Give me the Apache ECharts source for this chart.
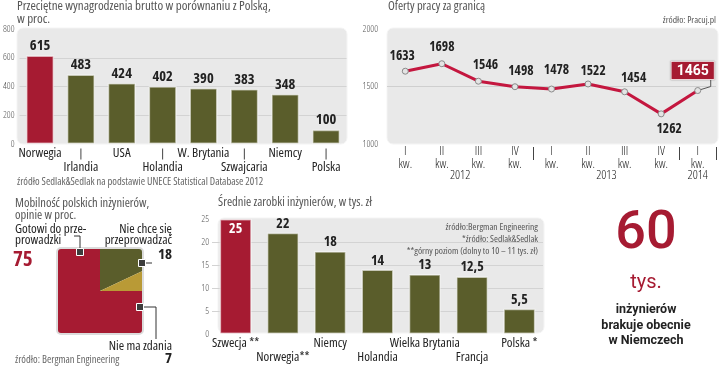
<!DOCTYPE html>
<html><head><meta charset="utf-8">
<script src="https://cdn.jsdelivr.net/npm/echarts@6/dist/echarts.min.js"></script>
<style>html,body{margin:0;padding:0;background:#fff}#c{width:720px;height:366px}</style>
</head><body><div id="c"></div>
<script>
// ---- data ----
const wageCountries = ['Norwegia','Irlandia','USA','Holandia','W. Brytania','Szwajcaria','Niemcy','Polska'];
const wageValues = [615,483,424,402,390,383,348,100];

const offerQuarters = ['I\nkw.','II\nkw.','III\nkw.','IV\nkw.','I\nkw.','II\nkw.','III\nkw.','IV\nkw.','I\nkw.'];
const offerValues = [1633,1698,1546,1498,1478,1522,1454,1262,1465];
const offerYears = ['2012','2013','2014'];
const offerYearQuarterCounts = [4,4,1];

const mobilityLabels = ['Nie chce się przeprowadzać','Nie ma zdania','Gotowi do przeprowadzki'];
const mobilityValues = [18,7,75];

const engCountries = ['Szwecja **','Norwegia**','Niemcy','Holandia','Wielka Brytania','Francja','Polska *'];
const engValues = [25,22,18,14,13,12.5,5.5];

const shortageValue = 60;

// ---- style ----
const OS = "'Open Sans'";
const CN = 'condensed';
const FR = "Roboto,'Noto Sans',sans-serif";
const RED = '#a61b32', OLIVE = '#5a5d2b', GOLD = '#b99a36', LINE = '#c4173f';
const mobilityColors = [OLIVE, GOLD, RED];
const lineLabelNudge = [[-3,0],[0,-1],[7,-1],[6,0],[5,-3],[5,3],[9,2],[8,0],[-5,-3]];
const f = (size, weight, stretch) => (stretch||CN) + ' ' + (weight||'normal') + ' ' + size + 'px ' + OS;

// derived
const yearCenters = []; const yearStarts = [];
{ let c = 0; offerYearQuarterCounts.forEach((n,i)=>{ yearCenters.push(c + n/2); if (i>0) yearStarts.push(c); c += n; }); }
const mobilityRanges = []; { let acc = 0; const tot = mobilityValues.reduce((a,b)=>a+b,0);
  mobilityValues.forEach(v=>{ mobilityRanges.push([acc/tot,(acc+v)/tot]); acc += v; }); }

const chart = echarts.init(document.getElementById('c'));

function T(x,y,text,font,fill,align){
  return {type:'text', x:x, y:y, z:10, style:{text:text, font:font, fill:fill||'#555', textAlign:align||'left', textVerticalAlign:'middle'}};
}
function panel(x,y,w,h){ return {type:'rect', z:-5, shape:{x:x,y:y,width:w,height:h,r:6}, style:{fill:'#e9e9e9', stroke:'#f4f4f4', lineWidth:1}}; }
function marker(x,y){ return {type:'rect', z:20, shape:{x:x-3.5,y:y-3.5,width:7,height:7}, style:{fill:'#3d3d3d', stroke:'#fff', lineWidth:1}}; }
function pline(pts){ return {type:'polyline', z:19, shape:{points:pts}, style:{stroke:'#333', lineWidth:1, fill:null}}; }

const graphics = [
  panel(17,28,330,116), panel(387,28,331,116), panel(218,218,326,115),
  T(17,6,'Przeciętne wynagrodzenia brutto w porównaniu z Polską,',f(13),'#555'),
  T(17,19,'w proc.',f(13),'#555'),
  T(17,182,'źródło Sedlak&Sedlak na podstawie UNECE Statistical Database 2012',f(10.5),'#666'),
  T(388,6,'Oferty pracy za granicą',f(12.5),'#555'),
  T(716,20,'źródło: Pracuj.pl',f(9.5),'#555','right'),
  T(15,203,'Mobilność polskich inżynierów,',f(12.5),'#555'),
  T(15,215,'opinie w proc.',f(12.5),'#555'),
  T(15,229,'Gotowi do prze-',f(13),'#222'),
  T(15,240,'prowadzki',f(13),'#222'),
  T(13,260,String(mobilityValues[2]),f(21,'bold'),RED),
  T(172,229,'Nie chce się',f(13),'#222','right'),
  T(172,240,'przeprowadzać',f(13),'#222','right'),
  T(172,255,String(mobilityValues[0]),f(15,'bold'),'#222','right'),
  T(172,346,'Nie ma zdania',f(13),'#222','right'),
  T(172,359,String(mobilityValues[1]),f(15,'bold'),'#222','right'),
  T(15,360,'źródło: Bergman Engineering',f(10.5),'#666'),
  T(218,202,'Średnie zarobki inżynierów, w tys. zł',f(12.5),'#555'),
  T(538,227,'źródło:Bergman Engineering',f(9.5),'#555','right'),
  T(538,239,'*źródło: Sedlak&Sedlak',f(9.5),'#555','right'),
  T(538,251,'**górny poziom (dolny to 10 – 11 tys. zł)',f(9.5),'#555','right'),
  T(646,234,String(shortageValue),'500 54px '+FR,RED,'center'),
  T(646,283,'tys.','20px '+FR,RED,'center'),
  T(646,310,'inżynierów','bold 12.5px '+FR,'#222','center'),
  T(646,326,'brakuje obecnie','bold 12.5px '+FR,'#222','center'),
  T(646,341,'w Niemczech','bold 12.5px '+FR,'#222','center'),
  {type:'rect', z:15, shape:{x:57,y:248,width:86,height:86,r:4}, style:{fill:null, stroke:'#dcdcdc', lineWidth:2}},
  pline([[74,236],[80,236],[80,252]]), marker(80,252),
  pline([[142,263],[152,263]]), marker(142,263),
  pline([[140,307],[156,307],[156,339]]), marker(140,307)
];

const yLab = {fontFamily:OS, fontStyle:CN, fontWeight:300, fontSize:9.5, color:'#555', formatter:v=>String(v)};
const catRich = {fontFamily:OS, fontStyle:CN, fontSize:13, lineHeight:13, color:'#222'};

const option = {
  animation:false,
  textStyle:{fontFamily:OS},
  grid:[
    {left:16.5, top:29, width:330, height:115},
    {left:387, top:29, width:329, height:115},
    {left:58, top:249, width:84, height:84},
    {left:212, top:219, width:331, height:115}
  ],
  xAxis:[
    {type:'category', gridIndex:0, position:'bottom', data:wageCountries, axisLine:{show:false}, axisTick:{show:false},
     axisLabel:{interval:0, margin:3, formatter:(v,i)=> i%2 ? '{t| }\n{n|'+v+'}' : '{n|'+v+'}',
       rich:{n:catRich, t:{width:1, height:11, backgroundColor:'#444', lineHeight:14, fontSize:8}}}},
    {type:'category', gridIndex:1, position:'bottom', data:offerQuarters, axisLine:{show:false}, axisTick:{show:false},
     axisLabel:{interval:0, margin:1, fontFamily:OS, fontStyle:CN, fontWeight:300, fontSize:12.5, lineHeight:13, color:'#222'}},
    {type:'category', gridIndex:1, position:'bottom', data:offerQuarters, offset:3, axisLine:{show:false}, axisLabel:{show:false},
     axisTick:{show:true, alignWithLabel:false, interval:(i)=>yearStarts.indexOf(i)>=0, length:13, lineStyle:{color:'#444', width:1}}},
    {type:'value', gridIndex:1, position:'bottom', min:0, max:offerQuarters.length, interval:0.5, axisLine:{show:false}, axisTick:{show:false}, splitLine:{show:false},
     axisLabel:{margin:25, fontFamily:OS, fontStyle:CN, fontWeight:300, fontSize:12.5, color:'#222', showMinLabel:true, showMaxLabel:true,
       formatter:v=>{ const k = yearCenters.findIndex(c=>Math.abs(c-v)<1e-6); return k>=0 ? offerYears[k] : ''; }}},
    {type:'value', gridIndex:2, min:-1, max:1, show:false},
    {type:'category', gridIndex:3, position:'bottom', data:engCountries, axisLine:{show:false}, axisTick:{show:false},
     axisLabel:{interval:0, margin:3, formatter:(v,i)=> i%2 ? '{s| }\n{n|'+v+'}' : '{n|'+v+'}',
       rich:{n:catRich, s:{lineHeight:14, fontSize:8}}}}
  ],
  yAxis:[
    {type:'value', gridIndex:0, min:0, max:800, interval:200, axisLine:{show:false}, axisTick:{show:false},
     axisLabel:Object.assign({margin:5}, yLab), splitLine:{lineStyle:{color:['transparent','#d3d3d3','#d3d3d3','#d3d3d3','transparent']}}},
    {type:'value', gridIndex:1, min:1000, max:2000, interval:500, axisLine:{show:false}, axisTick:{show:false},
     axisLabel:Object.assign({margin:9}, yLab), splitLine:{lineStyle:{color:['transparent','#cfcfcf','transparent']}}},
    {type:'value', gridIndex:2, min:-1, max:1, show:false},
    {type:'value', gridIndex:3, min:0, max:25, interval:5, axisLine:{show:false}, axisTick:{show:false},
     axisLabel:Object.assign({margin:3}, yLab), splitLine:{lineStyle:{color:['transparent','#d3d3d3','#d3d3d3','#d3d3d3','#d3d3d3','transparent']}}}
  ],
  series:[
    {type:'bar', xAxisIndex:0, yAxisIndex:0, barWidth:28,
     data:wageValues.map((v,i)=>({value:v, itemStyle:{color: i===0 ? RED : OLIVE}})),
     itemStyle:{borderColor:'rgba(255,255,255,0.55)', borderWidth:1.5},
     label:{show:true, position:'top', distance:2, fontFamily:OS, fontStyle:CN, fontWeight:'bold', fontSize:14.5, color:'#222'}},
    {type:'line', xAxisIndex:1, yAxisIndex:1, z:5,
     data:offerValues.map((v,i)=>{
       const last = i===offerValues.length-1;
       const lbl = {offset:lineLabelNudge[i]};
       if (i===7) lbl.position='bottom';
       if (last) Object.assign(lbl, {fontFamily:FR, fontStyle:'normal', fontSize:14, color:'#fff', backgroundColor:RED, padding:[2,5,1,5],
         borderColor:'#f2d9dd', borderWidth:1, shadowColor:'rgba(0,0,0,0.45)', shadowBlur:1.5});
       return {value:v, label:lbl};
     }),
     lineStyle:{color:LINE, width:3}, symbol:'circle', symbolSize:6,
     itemStyle:{color:'#e4e4e4', borderColor:'#8a8a8a', borderWidth:1},
     label:{show:true, position:'top', distance:5, fontFamily:OS, fontStyle:'semi-condensed', fontWeight:'bold', fontSize:13.5, color:'#222'}},
    {type:'custom', xAxisIndex:4, yAxisIndex:2,
     data:mobilityRanges,
     renderItem:(params, api)=>{
       const s = api.value(0), e = api.value(1);
       const edge = fr=>{ const a=fr*2*Math.PI, dx=Math.sin(a), dy=Math.cos(a), m=Math.max(Math.abs(dx),Math.abs(dy)); return [dx/m, dy/m]; };
       const pts = [[0,0], edge(s)];
       [0.125,0.375,0.625,0.875].forEach(c=>{ if (c>s && c<e) pts.push(edge(c)); });
       pts.push(edge(e));
       return {type:'polygon', shape:{points:pts.map(p=>api.coord(p))}, style:{fill:mobilityColors[params.dataIndex]}};
     }},
    {type:'bar', xAxisIndex:5, yAxisIndex:3, barWidth:32,
     data:engValues.map((v,i)=>({value:v, itemStyle:{color: i===0 ? RED : OLIVE},
       label: i===0 ? {position:'insideTop', distance:3, color:'#fff'} : undefined})),
     itemStyle:{borderColor:'rgba(255,255,255,0.55)', borderWidth:1.5},
     label:{show:true, position:'top', distance:2, fontFamily:OS, fontStyle:CN, fontWeight:'bold', fontSize:14, color:'#222',
       formatter:p=>String(p.value).replace('.',',')}}
  ],
  graphic:{elements:graphics}
};
chart.setOption(option);

// connector for the highlighted last point
const lastIdx = offerValues.length-1;
const p = chart.convertToPixel({seriesIndex:1}, [lastIdx, offerValues[lastIdx]]);
chart.setOption({graphic:{elements:[{id:'conn', type:'polyline', z:3, shape:{points:[[p[0],p[1]],[p[0]+13,p[1]-4],[p[0]+13,p[1]-11]]}, style:{stroke:'#555', lineWidth:1, fill:null}}]}});
</script>
</body></html>
